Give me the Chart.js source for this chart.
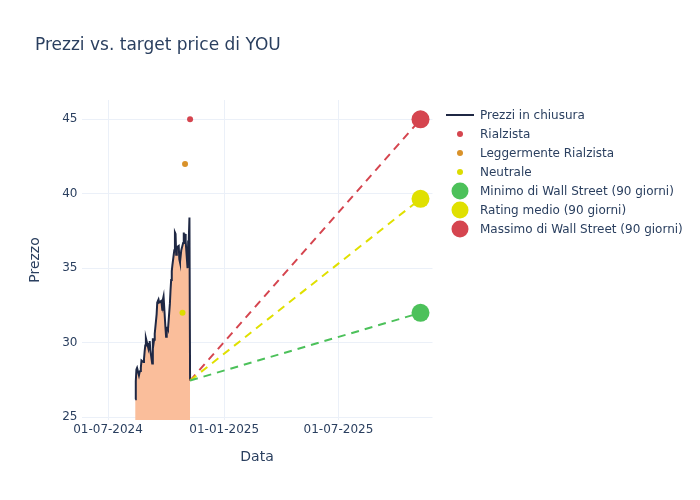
<!DOCTYPE html>
<html>
<head>
<meta charset="utf-8">
<script src="https://cdn.jsdelivr.net/npm/chart.js@4.4.1/dist/chart.umd.min.js"></script>
<style>
  html, body { margin: 0; padding: 0; background: #fff; }
  #wrap { position: relative; width: 700px; height: 500px; font-family: "DejaVu Sans", sans-serif; color: #2a3f5f; }
  #title { position: absolute; left: 35px; top: 34px; font-size: 17px; white-space: nowrap; }
  #legend { position: absolute; left: 444px; top: 105px; font-size: 12px; }
  .lg-row { display: flex; align-items: center; height: 19px; white-space: nowrap; }
  .lg-mark { width: 32px; height: 19px; position: relative; margin-right: 4px; }
  .lg-mark span { position: absolute; left: 50%; top: 50%; transform: translate(-50%, -50%); border-radius: 50%; }
  #chart { position: absolute; left: 0; top: 0; }
</style>
</head>
<body>
<div id="wrap">
  <canvas id="chart" width="700" height="500"></canvas>
  <div id="title">Prezzi vs. target price di YOU</div>
  <div id="legend"></div>
</div>
<script>
/* Prezzi vs. target price — YOU */
const closeDates = [
  "2024-08-13","2024-08-14","2024-08-15","2024-08-16","2024-08-19","2024-08-20","2024-08-21","2024-08-22","2024-08-23",
  "2024-08-26","2024-08-27","2024-08-28","2024-08-29","2024-08-30","2024-09-03","2024-09-04","2024-09-05","2024-09-06",
  "2024-09-09","2024-09-10","2024-09-11","2024-09-12","2024-09-13","2024-09-16","2024-09-17","2024-09-18","2024-09-19",
  "2024-09-20","2024-09-23","2024-09-24","2024-09-25","2024-09-26","2024-09-27","2024-09-30","2024-10-01","2024-10-02",
  "2024-10-03","2024-10-04","2024-10-07","2024-10-08","2024-10-09","2024-10-10","2024-10-11","2024-10-14","2024-10-15",
  "2024-10-16","2024-10-17","2024-10-18","2024-10-21","2024-10-22","2024-10-23","2024-10-24","2024-10-25","2024-10-28",
  "2024-10-29","2024-10-30","2024-10-31","2024-11-01","2024-11-04","2024-11-05","2024-11-06","2024-11-07","2024-11-08"
];
const closePrices = [
  26.2, 27.4, 28.2, 28.3, 27.8, 28.0, 28.1, 28.3, 28.8,
  28.7, 28.9, 29.4, 29.8, 30.3, 29.6, 29.9, 30.1, 29.5,
  28.6, 30.3, 29.9, 30.2, 30.6, 31.9, 32.7, 32.8, 32.9,
  32.7, 32.8, 32.6, 32.2, 32.9, 33.1, 31.0, 30.4, 31.0,
  31.0, 30.9, 32.6, 33.5, 34.2, 34.8, 35.2, 36.2, 37.4,
  37.3, 35.9, 36.4, 36.5, 35.6, 35.4, 35.8, 36.2, 36.7,
  37.4, 36.8, 37.3, 36.8, 35.0, 36.8, 37.0, 38.4, 27.45
];

const analystLabels = ["Rialzista", "Leggermente Rialzista", "Neutrale"];
const analystDates = ["2024-11-08", "2024-10-31", "2024-10-27"];
const analystTargets = [45, 42, 32];

const targetLabels = ["Minimo di Wall Street (90 giorni)", "Rating medio (90 giorni)", "Massimo di Wall Street (90 giorni)"];
const targetDate = "2025-11-08";
const targetValues = [32, 39.66, 45];

const xTickDates = ["2024-07-01", "2025-01-01", "2025-07-01"];
const yTicks = [25, 30, 35, 40, 45];

const FONT = "DejaVu Sans";
const TEXT = "#2a3f5f";
const GRID = "#ebf0f8";
const analystColors = ["#d5454f", "#d9922a", "#dcdc00"];
const targetColors = ["#4cc15a", "#e0e000", "#d5454f"];

const t = s => Date.parse(s);
const pad2 = n => String(n).padStart(2, "0");
const fmtDate = ms => { const d = new Date(ms); return pad2(d.getUTCDate()) + "-" + pad2(d.getUTCMonth() + 1) + "-" + d.getUTCFullYear(); };

const lastX = t(closeDates[closeDates.length - 1]);
const lastY = closePrices[closePrices.length - 1];

const datasets = [];
datasets.push({
  label: "Prezzi in chiusura",
  data: closeDates.map((d, i) => ({ x: t(d), y: closePrices[i] })),
  showLine: true, borderColor: "#1f2844", borderWidth: 2, pointRadius: 0,
  fill: "start", backgroundColor: "rgb(250,190,155)", order: 5
});
targetValues.forEach((v, i) => {
  datasets.push({
    label: "_dash" + i,
    data: [{ x: lastX, y: lastY }, { x: t(targetDate), y: v }],
    showLine: true, borderColor: targetColors[i], borderWidth: 2, borderDash: [8, 6],
    pointRadius: 0, fill: false, order: 4
  });
});
analystLabels.forEach((l, i) => {
  datasets.push({
    label: l, data: [{ x: t(analystDates[i]), y: analystTargets[i] }],
    pointRadius: 3, pointBackgroundColor: analystColors[i], pointBorderWidth: 0, order: 2
  });
});
targetLabels.forEach((l, i) => {
  datasets.push({
    label: l, data: [{ x: t(targetDate), y: targetValues[i] }],
    pointRadius: 9, pointBackgroundColor: targetColors[i], pointBorderWidth: 0, order: 1
  });
});

new Chart(document.getElementById("chart"), {
  type: "scatter",
  data: { datasets },
  options: {
    responsive: false, animation: false, devicePixelRatio: 1,
    layout: { padding: { top: 100, right: 267.5, left: 0, bottom: 0 } },
    plugins: { legend: { display: false }, tooltip: { enabled: false }, title: { display: false } },
    scales: {
      x: {
        type: "linear", min: t("2024-05-20"), max: t("2025-11-27"),
        afterBuildTicks: s => { s.ticks = xTickDates.map(d => ({ value: t(d) })); },
        afterFit: s => { s.height = 80; },
        ticks: { callback: v => fmtDate(v), color: TEXT, font: { family: FONT, size: 12 }, padding: 3, maxRotation: 0, autoSkip: false },
        grid: { color: GRID, drawTicks: false }, border: { display: false },
        title: { display: true, text: "Data", color: TEXT, font: { family: FONT, size: 14 }, padding: { top: 0, bottom: 34.6 } }
      },
      y: {
        min: 24.8, max: 46.3,
        afterBuildTicks: s => { s.ticks = yTicks.map(v => ({ value: v })); },
        afterFit: s => { s.width = 81.5; },
        ticks: { color: TEXT, font: { family: FONT, size: 12 }, padding: 4 },
        grid: { color: GRID, drawTicks: false }, border: { display: false },
        title: { display: true, text: "Prezzo", color: TEXT, font: { family: FONT, size: 14 }, padding: { top: 26.6, bottom: 0 } }
      }
    }
  }
});

// legend
const legend = document.getElementById("legend");
const rows = [{ label: "Prezzi in chiusura", kind: "line", color: "#1f2844" }]
  .concat(analystLabels.map((l, i) => ({ label: l, kind: "dot", size: 6, color: analystColors[i] })))
  .concat(targetLabels.map((l, i) => ({ label: l, kind: "dot", size: 17, color: targetColors[i] })));
legend.innerHTML = rows.map(r => {
  const mark = r.kind === "line"
    ? `<span style="width:28px;height:2px;border-radius:0;background:${r.color}"></span>`
    : `<span style="width:${r.size}px;height:${r.size}px;background:${r.color}"></span>`;
  return `<div class="lg-row"><div class="lg-mark">${mark}</div><div>${r.label}</div></div>`;
}).join("");
</script>
</body>
</html>
